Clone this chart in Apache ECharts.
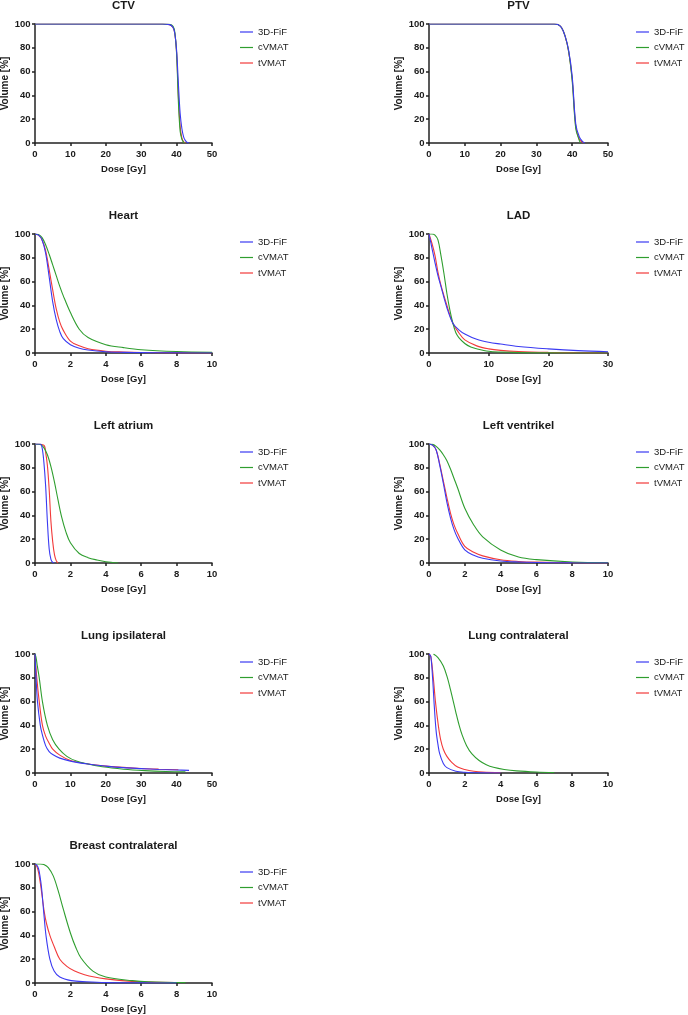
<!DOCTYPE html>
<html>
<head>
<meta charset="utf-8">
<script src="https://cdn.jsdelivr.net/npm/echarts@6/dist/echarts.min.js"></script>
<style>
  html, body { margin: 0; padding: 0; background: #fff; }
  #chart { width: 688px; height: 1015px; }
</style>
</head>
<body>
<div id="chart"></div>
<script>
// DVH curves: [dose Gy, volume %]
const seriesNames = ['3D-FiF', 'cVMAT', 'tVMAT'];
const titles = ['CTV', 'PTV', 'Heart', 'LAD', 'Left atrium', 'Left ventrikel',
  'Lung ipsilateral', 'Lung contralateral', 'Breast contralateral'];
const xMax = [50, 50, 10, 30, 10, 10, 50, 10, 10];
const xStep = [10, 10, 2, 10, 2, 2, 10, 2, 2];

const ctvFif = [[0,100],[36,100],[38,99.5],[39,97],[39.5,92],[40,78],[40.5,50],[41,25],[41.5,12],[42,5],[42.5,2],[43,0.5],[43.5,0]];
const ctvCvmat = [[0,100],[36,100],[38,99.7],[39,98],[39.5,93],[40,75],[40.5,35],[41,10],[41.5,3],[42,0.5],[42.3,0]];
const ctvTvmat = [[0,100],[36,100],[38,99.5],[39,97],[39.5,92],[40,76],[40.5,40],[41,14],[41.5,4],[42,1],[42.5,0]];

const ptvFif = [[0,100],[35,100],[36,99.5],[37,97],[38,90],[39,78],[40,56],[41,16],[42,5],[43,1],[43.5,0]];
const ptvCvmat = [[0,100],[35,100],[36,99.5],[37,97],[38,90],[39,77],[40,52],[41,12],[42,2],[42.3,0]];
const ptvTvmat = [[0,100],[35,100],[36,99.5],[37,97],[38,90],[39,77],[40,54],[41,14],[42,3],[43,0.5],[43.2,0]];

const heartFif = [[0,100],[0.2,99],[0.4,95],[0.6,84],[0.8,64],[1,43],[1.2,28],[1.4,18],[1.6,12],[2,7],[2.5,4],[3,2.5],[4,1],[5,0.5],[6,0.3],[8,0.1],[10,0]];
const heartCvmat = [[0,100],[0.2,99.5],[0.4,97],[0.6,91],[0.8,83],[1,74],[1.2,65],[1.4,56],[1.6,48],[2,34],[2.5,20],[3,13],[4,7],[5,4.5],[6,2.7],[8,1.2],[10,0.6]];
const heartTvmat = [[0,100],[0.2,99],[0.4,95],[0.6,86],[0.8,70],[1,53],[1.2,37],[1.4,26],[1.6,19],[2,10],[2.5,6],[3,3.5],[4,1.5],[5,0.8],[6,0.4],[8,0.1],[10,0]];

const ladFif = [[0,100],[0.5,88],[1,76],[1.5,65],[2,56],[3,38],[4,25],[5,19.5],[6,16],[8,11.5],[10,9],[12,7.5],[15,5.5],[20,3.5],[25,2],[30,1.1]];
const ladCvmat = [[0,100],[0.5,100],[1,99],[1.5,95],[2,82],[2.5,67],[3,50],[3.5,36],[4,25],[4.5,17],[5,13],[6,8],[7,5],[8,3.5],[10,1.5],[12,0.8],[15,0.3],[20,0.1],[30,0]];
const ladTvmat = [[0,100],[0.5,92],[1,82],[1.5,68],[2,57],[3,40],[4,25],[5,17],[6,11],[8,6],[10,3.5],[12,2.2],[15,1.2],[20,0.5],[25,0.2],[30,0]];

const laFif = [[0,100],[0.3,100],[0.4,97],[0.5,85],[0.6,65],[0.7,35],[0.8,12],[0.9,3],[1,0.5],[1.1,0]];
const laCvmat = [[0,100],[0.3,99.5],[0.5,97],[0.7,91],[0.9,81],[1.1,68],[1.3,53],[1.5,39],[1.75,26],[2,17],[2.5,8],[3,4.5],[3.5,2.5],[4,1],[4.7,0]];
const laTvmat = [[0,100],[0.5,99],[0.6,93],[0.7,82],[0.8,62],[0.9,35],[1,18],[1.1,7],[1.2,2],[1.3,0]];

const lvFif = [[0,100],[0.2,99],[0.4,95],[0.6,82],[0.8,67],[1,51],[1.2,38],[1.4,28],[1.6,21],[2,11],[2.5,6.5],[3,4],[4,1.7],[5,0.8],[6,0.4],[8,0.1],[10,0]];
const lvCvmat = [[0,100],[0.2,99.7],[0.4,98],[0.6,95],[0.8,91],[1,86],[1.2,79],[1.4,71],[1.6,63],[2,46],[2.5,32],[3,22],[4,11],[5,5],[6,2.8],[8,0.8],[10,0.2]];
const lvTvmat = [[0,100],[0.2,99],[0.4,95],[0.6,83],[0.8,69],[1,55],[1.2,42],[1.4,32],[1.6,25],[2,14],[2.5,9],[3,6],[4,2.7],[5,1.3],[6,0.7],[8,0.2],[10,0]];

const lungIFif = [[0,100],[0.3,80],[0.7,60],[1.5,40],[2,33],[3,23],[4,18],[5,15.5],[7,12.5],[10,10],[15,7.5],[20,5.8],[25,4.5],[30,3.7],[35,3],[40,2.5],[43.5,2.2]];
const lungICvmat = [[0,100],[0.3,97],[0.65,90],[1.2,80],[2.1,60],[3.5,40],[5,28],[6.8,20],[9,14],[11.7,10],[15,7.5],[19,5.2],[25,3.2],[31,2],[37,1.3],[42.5,1]];
const lungITvmat = [[0,100],[0.5,80],[1.2,60],[2.1,40],[3,31],[4,25],[5,20],[7,15],[10,10.5],[15,7.6],[20,5.8],[25,4.7],[30,3.8],[35,3.2],[40.5,2.7]];

const lungCFif = [[0,100],[0.1,98],[0.2,80],[0.3,55],[0.4,35],[0.5,24],[0.6,16],[0.8,8],[1,4.5],[1.5,1.5],[2,0.6],[3,0.1],[4,0]];
const lungCCvmat = [[0.25,100],[0.5,97],[0.8,90],[1.03,80],[1.2,70],[1.36,60],[1.5,51],[1.65,42],[1.85,32],[2.1,23],[2.4,16],[2.8,10.5],[3.2,7],[3.6,4.8],[4.2,3],[4.9,1.8],[6,0.8],[7,0.3]];
const lungCTvmat = [[0,100],[0.1,98],[0.24,80],[0.36,60],[0.52,40],[0.65,28],[0.8,20],[1,14],[1.27,9],[1.6,5],[2,3],[2.5,1.5],[3,0.7],[4,0.2]];

const breastFif = [[0,100],[0.1,99],[0.2,96],[0.28,90],[0.37,80],[0.49,60],[0.62,40],[0.84,20],[1.08,10],[1.4,5],[2.05,2],[2.9,1],[4,0.3],[6,0.1],[8,0]];
const breastCvmat = [[0,100],[0.3,100],[0.5,99.5],[0.75,97],[1.03,90],[1.3,78],[1.6,62],[2,42],[2.3,30],[2.6,21],[3.27,10],[4,5],[5.5,2],[6.4,1],[8.5,0.3]];
const breastTvmat = [[0,100],[0.1,98],[0.2,93],[0.34,80],[0.52,60],[0.65,50],[0.84,40],[1.1,30],[1.4,20],[1.8,14],[2.24,10],[2.8,7],[3.36,5],[4,3.5],[4.9,2],[6,1],[8,0.4]];

const curves = [
  [ctvFif, ctvCvmat, ctvTvmat],
  [ptvFif, ptvCvmat, ptvTvmat],
  [heartFif, heartCvmat, heartTvmat],
  [ladFif, ladCvmat, ladTvmat],
  [laFif, laCvmat, laTvmat],
  [lvFif, lvCvmat, lvTvmat],
  [lungIFif, lungICvmat, lungITvmat],
  [lungCFif, lungCCvmat, lungCTvmat],
  [breastFif, breastCvmat, breastTvmat]
];

const colors = ['#3a3af2', '#2f9e2f', '#f23a3a'];
const colLeft = [35, 429];
const colWidth = [177, 179];
const rowTop = [24, 234, 444, 654, 864];
const plotH = 119;
const axisColor = '#222';
const textColor = '#1a1a1a';
const font = 'Arial, "Liberation Sans", sans-serif';

const grid = [], xAxis = [], yAxis = [], series = [], title = [], legend = [];

titles.forEach(function (name, i) {
  const col = i % 2;
  const row = Math.floor(i / 2);
  const left = colLeft[col];
  const top = rowTop[row];

  grid.push({ left: left, top: top, width: colWidth[col], height: plotH, outerBoundsMode: 'none' });

  title.push({
    text: name,
    left: left + colWidth[col] / 2,
    top: top - 25,
    textAlign: 'center',
    padding: 0,
    textStyle: { fontFamily: font, fontSize: 11.5, fontWeight: 'bold', color: textColor, lineHeight: 14 }
  });

  legend.push({
    data: seriesNames,
    orient: 'vertical',
    left: left + colWidth[col] + 28,
    top: top + 3,
    icon: 'rect',
    itemWidth: 13,
    itemHeight: 1.2,
    itemGap: 5.5,
    padding: 0,
    textStyle: { fontFamily: font, fontSize: 9.5, color: textColor, lineHeight: 10 }
  });

  const axisLine = { show: true, lineStyle: { color: axisColor, width: 1.5 } };
  const axisTick = { show: true, length: 3, lineStyle: { color: axisColor, width: 1.5 } };

  xAxis.push({
    type: 'value', gridIndex: i, min: 0, max: xMax[i], interval: xStep[i],
    name: 'Dose [Gy]', nameLocation: 'middle', nameGap: 21,
    nameTextStyle: { fontFamily: font, fontSize: 9.5, fontWeight: 'bold', color: textColor },
    axisLine: axisLine, axisTick: axisTick, splitLine: { show: false },
    axisLabel: { margin: 6.5, fontFamily: font, fontSize: 9.5, fontWeight: 'bold', color: textColor }
  });

  yAxis.push({
    type: 'value', gridIndex: i, min: 0, max: 100, interval: 20,
    name: 'Volume [%]', nameLocation: 'middle', nameGap: 23,
    nameTextStyle: { fontFamily: font, fontSize: 10, fontWeight: 'bold', color: textColor },
    axisLine: axisLine, axisTick: axisTick, splitLine: { show: false },
    axisLabel: { margin: 4.5, fontFamily: font, fontSize: 9.5, fontWeight: 'bold', color: textColor }
  });

  curves[i].forEach(function (pts, k) {
    series.push({
      name: seriesNames[k],
      type: 'line',
      xAxisIndex: i,
      yAxisIndex: i,
      data: pts,
      smooth: 0.35,
      symbol: 'none',
      color: colors[k],
      lineStyle: { width: 1.1, color: colors[k] },
      z: 3 - k
    });
  });
});

const chart = echarts.init(document.getElementById('chart'));
chart.setOption({
  animation: false,
  backgroundColor: '#fff',
  title: title,
  legend: legend,
  grid: grid,
  xAxis: xAxis,
  yAxis: yAxis,
  series: series
});
</script>
</body>
</html>
